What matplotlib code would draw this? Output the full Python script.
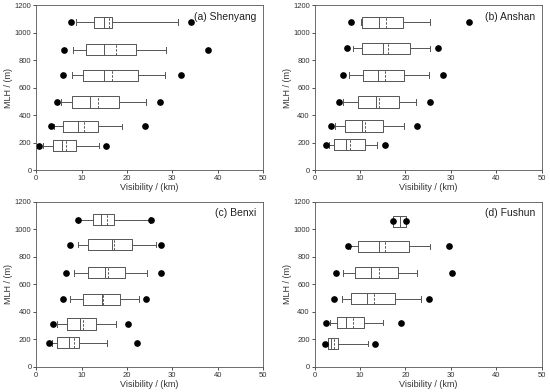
import matplotlib
matplotlib.use("Agg")
import matplotlib.pyplot as plt

plt.rcParams['font.family'] = ['Liberation Sans', 'DejaVu Sans']

cities = ["(a) Shenyang", "(b) Anshan", "(c) Benxi", "(d) Fushun"]

# MLH bin centres (m), one row per city
mlh = [
    [178, 318, 495, 690, 875, 1075],
    [185, 320, 495, 690, 885, 1075],
    [176, 313, 492, 684, 890, 1070],
    [170, 322, 495, 685, 876, 1058],
]

# visibility statistics (km), bottom bin first
p5 = [
    [0.5, 3.2, 4.5, 6.0, 6.2, 7.6],
    [2.4, 3.6, 5.3, 6.3, 7.2, 8.1],
    [2.7, 3.7, 5.8, 6.6, 7.4, 9.1],
    [2.2, 2.4, 4.2, 4.8, 7.3, 17.3],
]
whis_lo = [
    [1.4, 4.0, 5.5, 7.8, 8.0, 8.8],
    [3.2, 4.6, 6.3, 7.6, 8.5, 10.2],
    [3.5, 4.5, 7.4, 8.4, 9.2, 9.1],
    [2.9, 3.4, 6.1, 6.3, 7.9, 17.3],
]
q1 = [
    [3.6, 5.8, 7.9, 10.4, 11.0, 12.7],
    [4.2, 6.8, 9.6, 10.6, 10.5, 10.4],
    [4.6, 6.8, 10.2, 11.5, 11.5, 12.6],
    [2.9, 5.0, 8.1, 9.0, 9.6, 17.3],
]
median = [
    [5.6, 9.1, 11.9, 14.9, 14.9, 15.0],
    [7.0, 10.4, 13.5, 14.0, 15.1, 14.2],
    [7.2, 9.6, 14.4, 15.1, 16.6, 14.2],
    [3.7, 7.0, 11.5, 12.4, 14.2, 18.8],
]
mean = [
    [6.5, 10.6, 13.7, 16.7, 17.5, 16.1],
    [7.7, 11.2, 14.1, 15.5, 16.1, 15.8],
    [8.3, 10.4, 14.8, 15.8, 17.1, 15.6],
    [4.2, 8.5, 13.1, 14.1, 15.5, 18.9],
]
q3 = [
    [8.8, 13.7, 18.2, 22.4, 22.1, 16.7],
    [11.2, 15.0, 18.6, 19.7, 20.9, 19.4],
    [9.4, 13.1, 18.4, 19.5, 21.1, 17.2],
    [5.1, 10.8, 17.8, 18.4, 20.7, 20.2],
]
whis_hi = [
    [13.8, 18.8, 24.2, 28.3, 28.7, 31.2],
    [13.7, 19.7, 22.4, 25.2, 25.4, 25.4],
    [15.6, 17.6, 22.6, 24.5, 26.5, 25.0],
    [11.7, 15.1, 23.5, 22.6, 25.5, 20.2],
]
p95 = [
    [15.3, 23.9, 27.2, 31.9, 37.9, 34.1],
    [15.5, 22.6, 25.3, 28.2, 27.2, 34.0],
    [22.3, 20.2, 24.3, 27.6, 27.5, 25.4],
    [13.3, 19.1, 25.2, 30.2, 29.6, 20.1],
]

fig = plt.figure(figsize=(5.5, 3.92), dpi=100)
rects = [
    [0.066, 0.566, 0.412, 0.421],
    [0.572, 0.566, 0.413, 0.421],
    [0.066, 0.064, 0.412, 0.421],
    [0.572, 0.064, 0.413, 0.421],
]

grey = "#555555"
for k, city in enumerate(cities):
    ax = fig.add_axes(rects[k])
    stats = []
    for i in range(6):
        stats.append({
            "med": median[k][i], "mean": mean[k][i],
            "q1": q1[k][i], "q3": q3[k][i],
            "whislo": whis_lo[k][i], "whishi": whis_hi[k][i],
            "fliers": [p5[k][i], p95[k][i]],
        })
    ax.bxp(stats, positions=mlh[k], widths=82, vert=False,
           showmeans=True, meanline=True, manage_ticks=False,
           boxprops=dict(color=grey, linewidth=0.7),
           whiskerprops=dict(color=grey, linewidth=0.7),
           capprops=dict(color=grey, linewidth=0.7),
           medianprops=dict(color=grey, linewidth=0.7),
           meanprops=dict(color=grey, linewidth=0.7, linestyle=(0, (2.5, 1.5))),
           flierprops=dict(marker='o', markerfacecolor='black',
                           markeredgecolor='black', markersize=3.8))
    ax.set_xlim(0, 50)
    ax.set_ylim(0, 1200)
    ax.set_xticks(range(0, 51, 10))
    ax.set_yticks(range(0, 1201, 200))
    ax.tick_params(labelsize=5.5, length=2, width=0.6, pad=1.5, colors="#333333")
    for s in ax.spines.values():
        s.set_linewidth(0.6)
        s.set_color("#555555")
    ax.set_xlabel("Visibility / (km)", fontsize=6.5, labelpad=1, color="#333333")
    ax.set_ylabel("MLH / (m)", fontsize=6.5, labelpad=1, color="#333333")
    ax.text(0.97, 0.93, city, transform=ax.transAxes, ha='right', va='center',
            fontsize=7.5, color="#222222")

plt.savefig("out.png", dpi=100)
